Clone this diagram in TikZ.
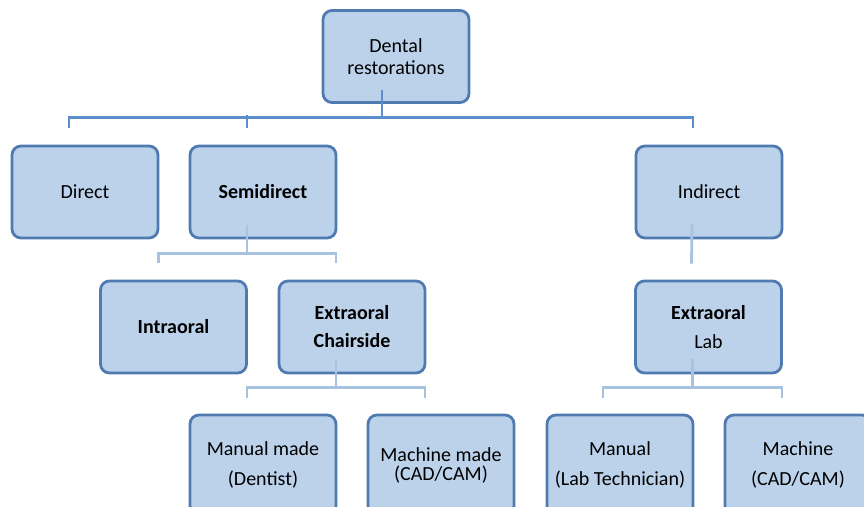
\documentclass[tikz,border=0pt]{standalone}
\usepackage{fontspec}
\setmainfont{Carlito}
\definecolor{boxfill}{HTML}{BCD2EA}
\definecolor{boxline}{HTML}{4F7BB0}
\definecolor{busdark}{HTML}{5B8FCB}
\definecolor{buslight}{HTML}{A8C2E2}
\tikzset{
  cat/.style={draw=boxline,fill=boxfill,line width=1.4pt,rounded corners=4.5pt,
    minimum width=73pt,minimum height=46pt,align=center,font=\fontsize{10}{12}\selectfont,inner sep=0pt},
  low/.style={cat,minimum height=50pt},
  trunk/.style={busdark,line width=1.4pt},
  branch/.style={buslight,line width=1.4pt}
}
\begin{document}
\begin{tikzpicture}[x=.5pt,y=-.5pt]
\clip (0,0) rectangle (864,507);
\useasboundingbox (0,0) rectangle (864,507);
% level 0 and 1
\node[cat] (dental) at (396,56.5) {Dental\\[-1pt]restorations};
\node[cat] (direct) at (85,192) {Direct};
\node[cat] (semi) at (263,192) {\bfseries Semidirect};
\node[cat] (indirect) at (709,192) {Indirect};
% level 2
\node[cat] (intra) at (173.5,327) {\bfseries Intraoral};
\node[cat] (chair) at (352,327) {\bfseries Extraoral\\[2pt]\bfseries Chairside};
\node[cat] (lab) at (708.5,327) {\bfseries Extraoral\\[2.5pt]Lab};
% level 3
\node[low] (dentist) at (263,465) {Manual made\\[3pt](Dentist)};
\node[low] (cadchair) at (441,465) {Machine made\\[-2.5pt](CAD/CAM)};
\node[low] (tech) at (620,465) {Manual\\[3pt](Lab Technician)};
\node[low] (cadlab) at (798,465) {Machine\\[3pt](CAD/CAM)};
% connectors
\draw[trunk] ([xshift=-7pt,yshift=7pt]dental.south) -- ([xshift=-7pt,yshift=-7pt]dental.south);
\draw[trunk] ([xshift=-8pt,yshift=8.5pt]direct.north) |- ([yshift=-7pt]dental.south)
  -| ([xshift=-8pt,yshift=8.5pt]indirect.north);
\draw[trunk] ([xshift=-8pt,yshift=8.5pt]semi.north) -- ([xshift=-8pt,yshift=15pt]semi.north);
\draw[branch] ([xshift=-8pt,yshift=7pt]semi.south) -- ([xshift=-8pt,yshift=-7pt]semi.south);
\draw[branch] ([xshift=-7.5pt,yshift=8.5pt]intra.north) |- ([yshift=-7pt]semi.south)
  -| ([xshift=-8pt,yshift=8.5pt]chair.north);
\draw[branch] ([xshift=-8.5pt,yshift=7.5pt]indirect.south) -- ([xshift=-8.5pt,yshift=8pt]lab.north);
\draw[branch] ([xshift=-8pt,yshift=7.5pt]chair.south) -- ([xshift=-8pt,yshift=-6.5pt]chair.south);
\draw[branch] ([xshift=-8pt,yshift=8pt]dentist.north) |- ([yshift=-6.5pt]chair.south)
  -| ([xshift=-8pt,yshift=8pt]cadchair.north);
\draw[branch] ([xshift=-8pt,yshift=7.5pt]lab.south) -- ([xshift=-8pt,yshift=-6.5pt]lab.south);
\draw[branch] ([xshift=-8.5pt,yshift=8pt]tech.north) |- ([yshift=-6.5pt]lab.south)
  -| ([xshift=-8pt,yshift=8pt]cadlab.north);
\end{tikzpicture}
\end{document}
